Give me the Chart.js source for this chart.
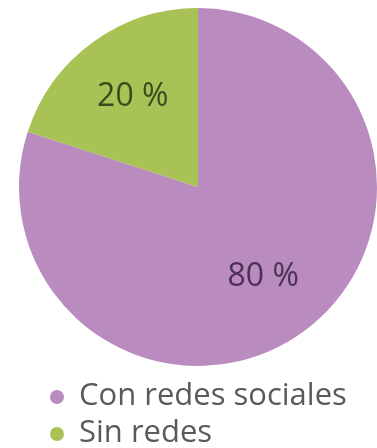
<!DOCTYPE html>
<html>
<head>
<meta charset="utf-8">
<script src="https://cdn.jsdelivr.net/npm/chart.js@4"></script>
<style>
  html, body { margin: 0; padding: 0; background: #fff; }
  #wrap { width: 377px; height: 448px; position: relative; }
</style>
</head>
<body>
<div id="wrap"><canvas id="redesChart"></canvas></div>
<script>
const categorias = ["Con redes sociales", "Sin redes"];
const porcentajes = [80, 20];
const colores = ["#b98bbf", "#a9c256"];
const coloresTexto = ["#4b3152", "#3b4a1c"];

// etiquetas "80 %" / "20 %" dentro de cada porción
const etiquetasPlugin = {
  id: "etiquetas",
  afterDatasetsDraw(chart) {
    const ctx = chart.ctx;
    const arcs = chart.getDatasetMeta(0).data;
    ctx.save();
    ctx.font = "32px 'Open Sans'";
    ctx.textAlign = "center";
    ctx.textBaseline = "middle";
    arcs.forEach((arc, i) => {
      const p = arc.getProps(["x", "y", "startAngle", "endAngle", "outerRadius"], true);
      const mid = (p.startAngle + p.endAngle) / 2;
      const d = p.outerRadius * 0.62;
      ctx.fillStyle = coloresTexto[i];
      ctx.fillText(porcentajes[i] + " %", p.x + Math.cos(mid) * d, p.y + Math.sin(mid) * d);
    });
    ctx.restore();
  }
};

// leyenda vertical debajo del gráfico
const leyendaPlugin = {
  id: "leyenda",
  afterDraw(chart) {
    const ctx = chart.ctx;
    const top = chart.chartArea.bottom + 30;
    ctx.save();
    ctx.font = "31px 'Open Sans'";
    ctx.textBaseline = "middle";
    categorias.forEach((cat, i) => {
      const y = top + i * 37;
      ctx.fillStyle = colores[i];
      ctx.beginPath();
      ctx.arc(57, y + 1, 7, 0, Math.PI * 2);
      ctx.fill();
      ctx.fillStyle = "#5a5a5a";
      ctx.fillText(cat, 79, y);
    });
    ctx.restore();
  }
};

const ctx = document.getElementById("redesChart").getContext("2d");
const chart = new Chart(ctx, {
  type: "pie",
  data: {
    labels: categorias,
    datasets: [{
      data: porcentajes,
      backgroundColor: colores,
      borderWidth: 0
    }]
  },
  options: {
    responsive: true,
    maintainAspectRatio: false,
    animation: false,
    layout: { padding: { left: 19, right: 0, top: 8, bottom: 82 } },
    plugins: {
      legend: { display: false },
      tooltip: { enabled: false }
    }
  },
  plugins: [etiquetasPlugin, leyendaPlugin]
});
</script>
</body>
</html>
